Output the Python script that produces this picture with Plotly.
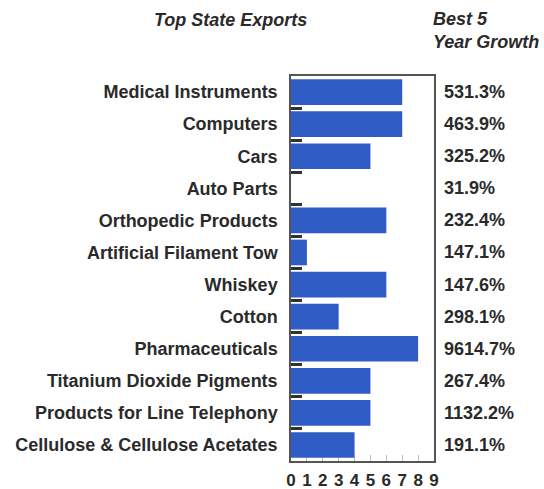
import plotly.graph_objects as go

categories = [
    "Medical Instruments",
    "Computers",
    "Cars",
    "Auto Parts",
    "Orthopedic Products",
    "Artificial Filament Tow",
    "Whiskey",
    "Cotton",
    "Pharmaceuticals",
    "Titanium Dioxide Pigments",
    "Products for Line Telephony",
    "Cellulose & Cellulose Acetates",
]
rank_values = [7, 7, 5, 0, 6, 1, 6, 3, 8, 5, 5, 4]
growth_labels = [
    "531.3%", "463.9%", "325.2%", "31.9%", "232.4%", "147.1%",
    "147.6%", "298.1%", "9614.7%", "267.4%", "1132.2%", "191.1%",
]
x_ticks = list(range(10))

TEXT = "#2a2a2a"
FONT = "Liberation Sans, Arial, sans-serif"

fig = go.Figure(
    go.Bar(
        x=rank_values,
        y=categories,
        orientation="h",
        marker=dict(color="#2f5cc4", line=dict(width=0)),
        width=0.8,
    )
)

# growth percentages to the right of the plot box
for cat, lab in zip(categories, growth_labels):
    fig.add_annotation(
        x=1, xref="paper", y=cat, yref="y",
        text=f"<b>{lab}</b>", showarrow=False,
        xanchor="left", xshift=8,
        font=dict(family=FONT, size=18, color=TEXT),
    )

# column headings
fig.add_annotation(
    x=-0.97, xref="paper", y=1.0, yref="paper", yanchor="bottom", yshift=44,
    text="<b><i>Top State Exports</i></b>", showarrow=False, xanchor="left",
    font=dict(family=FONT, size=18, color=TEXT),
)
fig.add_annotation(
    x=1, xref="paper", y=1.0, yref="paper", yanchor="bottom", yshift=22,
    xshift=-3,
    text="<b><i>Best 5<br>Year Growth</i></b>", showarrow=False, xanchor="left",
    align="left",
    font=dict(family=FONT, size=18, color=TEXT),
)

fig.update_layout(
    width=544, height=489,
    margin=dict(l=291, r=110, t=76, b=28, autoexpand=False),
    paper_bgcolor="white", plot_bgcolor="white",
    showlegend=False,
    font=dict(family=FONT, color=TEXT),
    bargap=0.2,
)
fig.update_xaxes(
    range=[0, 9], tickvals=x_ticks, ticktext=[f"<b>{v}</b>" for v in x_ticks],
    ticks="inside", ticklen=6, tickcolor="#bbbbbb", tickwidth=1,
    showgrid=False, zeroline=False, automargin=False,
    showline=True, linecolor="#555555", linewidth=1.5, mirror=True,
    tickfont=dict(family=FONT, size=17, color=TEXT),
    layer="below traces", ticklabelstandoff=3,
)
fig.update_yaxes(
    autorange="reversed", tickson="boundaries",
    ticks="inside", ticklen=11, tickcolor="#333333", tickwidth=2.5,
    showgrid=False, zeroline=False, automargin=False,
    showline=True, linecolor="#555555", linewidth=1.5, mirror=True,
    tickvals=categories, ticktext=[f"<b>{c}</b>" for c in categories],
    tickfont=dict(family=FONT, size=18, color=TEXT),
    layer="below traces", ticklabelstandoff=8,
)

fig.write_html("out.html")
